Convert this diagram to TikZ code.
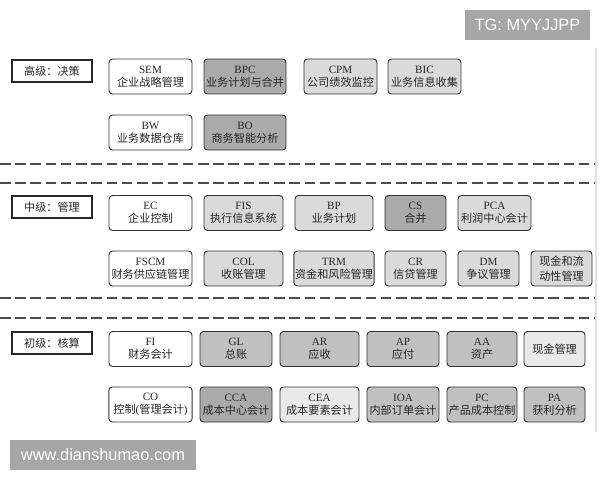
\documentclass[tikz,border=0pt]{standalone}
\usepackage{fontspec}
\setmainfont{Liberation Serif}
\newfontfamily\cjk{Noto Sans CJK SC}
\newfontfamily\wmfont{Liberation Sans}
\definecolor{palefill}{HTML}{E9E9E9}
\definecolor{lightfill}{HTML}{DADADA}
\definecolor{midfill}{HTML}{C0C0C0}
\definecolor{darkfill}{HTML}{AAAAAA}
\definecolor{wmgray}{HTML}{A6A6A6}
\definecolor{edgegreen}{HTML}{D3ECD3}
\tikzset{
  module/.style={draw=black!80, line width=0.8pt, rounded corners=3pt, align=center,
    minimum height=35*0.03cm, inner sep=1pt, text=black!85,
    font=\fontsize{9.5}{11}\selectfont},
  wd/.style={minimum width=#1*0.03cm},
  level/.style={draw=black!85, line width=1pt, minimum width=80*0.03cm,
    minimum height=22*0.03cm, inner sep=1pt, text=black!85,
    font=\fontsize{9.5}{11}\selectfont\cjk},
  divider/.style={draw=black!70, line width=1pt, dash pattern=on 9pt off 4pt},
  watermark/.style={fill=wmgray, text=white, inner sep=0pt, font=\wmfont\fontsize{14}{16}\selectfont}
}
\begin{document}
\begin{tikzpicture}[x=0.03cm, y=-0.03cm]
	\useasboundingbox (0,0) rectangle (600,480);
	% faint edge on the right
	\draw[edgegreen, line width=2.5pt] (596,48) -- (596,432);
	% high level
	\node[level] (high) at (52,71) {高级：决策};
	\node[module, wd=83, fill=white] (sem) at (150.5,76.5) {SEM\\{\cjk 企业战略管理}};
	\node[module, wd=82, fill=darkfill] (bpc) at (245,76.5) {BPC\\{\cjk 业务计划与合并}};
	\node[module, wd=73, fill=lightfill] (cpm) at (340.5,76.5) {CPM\\{\cjk 公司绩效监控}};
	\node[module, wd=73, fill=lightfill] (bic) at (424.5,76.5) {BIC\\{\cjk 业务信息收集}};
	\node[module, wd=83, fill=white] (bw) at (150.5,132.5) {BW\\{\cjk 业务数据仓库}};
	\node[module, wd=82, fill=darkfill] (bo) at (245,132.5) {BO\\{\cjk 商务智能分析}};
	\draw[divider] (0,164) -- (595,164);
	\draw[divider] (0,183) -- (595,183);
	% middle level
	\node[level] (mid) at (52,207) {中级：管理};
	\node[module, wd=83, fill=white] (ec) at (150.5,213) {EC\\{\cjk 企业控制}};
	\node[module, wd=79, fill=lightfill] (fis) at (243.5,213) {FIS\\{\cjk 执行信息系统}};
	\node[module, wd=78, fill=lightfill] (bp) at (334,213) {BP\\{\cjk 业务计划}};
	\node[module, wd=61, fill=darkfill] (cs) at (415.5,213) {CS\\{\cjk 合并}};
	\node[module, wd=73, fill=lightfill] (pca) at (494.5,213) {PCA\\{\cjk 利润中心会计}};
	\node[module, wd=83, fill=white] (fscm) at (150.5,268.5) {FSCM\\{\cjk 财务供应链管理}};
	\node[module, wd=79, fill=lightfill] (col) at (243.5,268.5) {COL\\{\cjk 收账管理}};
	\node[module, wd=78, fill=lightfill] (trm) at (334,268.5) {TRM\\{\cjk 资金和风险管理}};
	\node[module, wd=61, fill=lightfill] (cr) at (415.5,268.5) {CR\\{\cjk 信贷管理}};
	\node[module, wd=61, fill=lightfill] (dm) at (488.5,268.5) {DM\\{\cjk 争议管理}};
	\node[module, wd=61, fill=lightfill, font=\fontsize{9.5}{12.5}\selectfont\cjk] (cash) at (561.5,268.5) {现金和流\\动性管理};
	\draw[divider] (0,298) -- (595,298);
	\draw[divider] (0,318) -- (595,318);
	% low level
	\node[level] (low) at (52,343) {初级：核算};
	\node[module, wd=83, fill=white] (fi) at (150.5,349) {FI\\{\cjk 财务会计}};
	\node[module, wd=72, fill=midfill] (gl) at (236,349) {GL\\{\cjk 总账}};
	\node[module, wd=79, fill=midfill] (ar) at (319.5,349) {AR\\{\cjk 应收}};
	\node[module, wd=72, fill=midfill] (ap) at (403,349) {AP\\{\cjk 应付}};
	\node[module, wd=70, fill=midfill] (aa) at (482,349) {AA\\{\cjk 资产}};
	\node[module, wd=61, fill=palefill, font=\fontsize{9.5}{11}\selectfont\cjk] (cm) at (554.5,349) {现金管理};
	\node[module, wd=83, text width=81*0.03cm, fill=white] (co) at (150.5,404.5) {CO\\{\cjk 控制}({\cjk 管理会计})};
	\node[module, wd=72, fill=darkfill] (cca) at (236,404.5) {CCA\\{\cjk 成本中心会计}};
	\node[module, wd=79, fill=palefill] (cea) at (319.5,404.5) {CEA\\{\cjk 成本要素会计}};
	\node[module, wd=72, fill=midfill] (ioa) at (403,404.5) {IOA\\{\cjk 内部订单会计}};
	\node[module, wd=70, fill=midfill] (pc) at (482,404.5) {PC\\{\cjk 产品成本控制}};
	\node[module, wd=61, fill=midfill] (pa) at (554.5,404.5) {PA\\{\cjk 获利分析}};
	% watermarks
	\node[watermark, minimum width=125*0.03cm, minimum height=30*0.03cm] (tg) at (527.5,25) {TG: MYYJJPP};
	\node[watermark, minimum width=186*0.03cm, minimum height=30*0.03cm] (web) at (103,455) {www.dianshumao.com};
\end{tikzpicture}
\end{document}
